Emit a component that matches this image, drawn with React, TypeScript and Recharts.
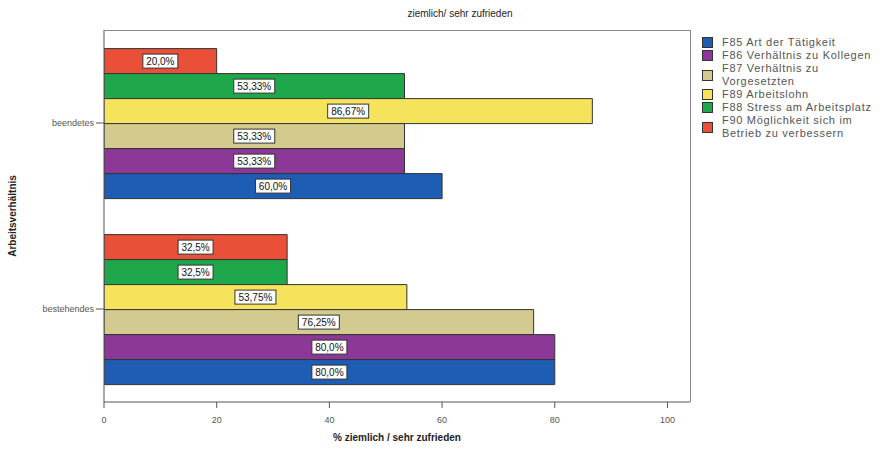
import { BarChart, Bar, XAxis, YAxis, LabelList } from 'recharts'

// Arbeitsverhältnis vs. % ziemlich / sehr zufrieden
const categories = ['beendetes', 'bestehendes']
const f85Taetigkeit = [60.0, 80.0]
const f86Kollegen = [53.33, 80.0]
const f87Vorgesetzte = [53.33, 76.25]
const f89Lohn = [86.67, 53.75]
const f88Stress = [53.33, 32.5]
const f90Verbessern = [20.0, 32.5]
const xTicks = [0, 20, 40, 60, 80, 100]

// bar order top -> bottom inside a group
const series = [
  { key: 'f90', name: 'F90 Möglichkeit sich im Betrieb zu verbessern', values: f90Verbessern },
  { key: 'f88', name: 'F88 Stress am Arbeitsplatz', values: f88Stress },
  { key: 'f89', name: 'F89 Arbeitslohn', values: f89Lohn },
  { key: 'f87', name: 'F87 Verhältnis zu Vorgesetzten', values: f87Vorgesetzte },
  { key: 'f86', name: 'F86 Verhältnis zu Kollegen', values: f86Kollegen },
  { key: 'f85', name: 'F85 Art der Tätigkeit', values: f85Taetigkeit },
]

const colors: Record<string, string> = {
  f85: '#1d5db3',
  f86: '#8b3896',
  f87: '#d3ca90',
  f89: '#f6e35c',
  f88: '#1fa84b',
  f90: '#ea4f37',
}

const chartData = categories.map((cat, i) => {
  const row: Record<string, any> = { name: cat }
  series.forEach((s) => (row[s.key] = s.values[i]))
  return row
})

const FONT = '"Liberation Sans", Arial, sans-serif'

const fmt = (v: number) => {
  const s = Number.isInteger(v) ? v.toFixed(1) : String(v)
  return s.replace('.', ',') + '%'
}

const ValueBox = (props: any) => {
  const { x, y, width, height, value } = props
  const text = fmt(value)
  const w = text.length * 6 + 5
  const cx = x + width / 2
  const cy = y + height / 2
  return (
    <g>
      <rect x={cx - w / 2} y={cy - 7} width={w} height={14} fill="#fff" stroke="#333" strokeWidth={1} />
      <text x={cx} y={cy + 3.5} textAnchor="middle" fontSize={10} fontFamily={FONT} fill="#111">
        {text}
      </text>
    </g>
  )
}

const YTitle = (props: any) => {
  const { viewBox } = props
  const x = viewBox.x + 16
  const y = viewBox.y + viewBox.height / 2
  return (
    <text x={x} y={y} transform={`rotate(-90, ${x}, ${y})`} textAnchor="middle" fontSize={10} fontWeight="bold" fontFamily={FONT} fill="#222">
      Arbeitsverhältnis
    </text>
  )
}

export default function App() {
  const legendItems = [...series].reverse()
  return (
    <div style={{ position: 'absolute', left: 0, top: 0, width: 895, height: 450, background: '#fff', fontFamily: FONT, overflow: 'hidden' }}>
      <div style={{ position: 'absolute', left: 0, width: 920, top: 8, textAlign: 'center', fontSize: 10, color: '#222' }}>
        ziemlich/ sehr zufrieden
      </div>

      <BarChart
        width={895}
        height={450}
        data={chartData}
        layout="vertical"
        margin={{ top: 30, right: 205, bottom: 0, left: 0 }}
        barCategoryGap="10%"
        barGap={0}
      >
        <XAxis
          type="number"
          domain={[0, 104]}
          ticks={xTicks}
          allowDataOverflow
          height={48}
          tickSize={6}
          tickMargin={9}
          stroke="#555"
          tick={{ fontSize: 9, fill: '#555', fontFamily: FONT }}
          label={{ value: '% ziemlich / sehr zufrieden', position: 'insideBottom', offset: 9, fontSize: 10, fontWeight: 'bold', fill: '#222', fontFamily: FONT }}
        />
        <YAxis
          type="category"
          dataKey="name"
          width={104}
          tickSize={8}
          stroke="#555"
          tick={{ fontSize: 9, fill: '#555', fontFamily: FONT }}
          label={<YTitle />}
        />
        {series.map((s) => (
          <Bar key={s.key} dataKey={s.key} name={s.name} fill={colors[s.key]} stroke="#333" strokeWidth={1} isAnimationActive={false}>
            <LabelList dataKey={s.key} content={<ValueBox />} />
          </Bar>
        ))}
      </BarChart>

      <div style={{ position: 'absolute', left: 104, top: 30, width: 587, height: 372, border: '1px solid #888', borderLeft: 'none', borderBottom: 'none', boxSizing: 'border-box', pointerEvents: 'none' }} />

      <div style={{ position: 'absolute', left: 702, top: 36, width: 200, fontSize: 11, color: '#555', lineHeight: '13px', letterSpacing: 0.7 }}>
        {legendItems.map((s) => (
          <div key={s.key} style={{ display: 'flex', alignItems: 'center' }}>
            <span style={{ width: 11, height: 11, background: colors[s.key], border: '1px solid #333', flex: '0 0 auto', marginRight: 9, boxSizing: 'border-box' }} />
            <span style={{ width: 158, flex: '0 0 auto' }}>{s.name}</span>
          </div>
        ))}
      </div>
    </div>
  )
}
